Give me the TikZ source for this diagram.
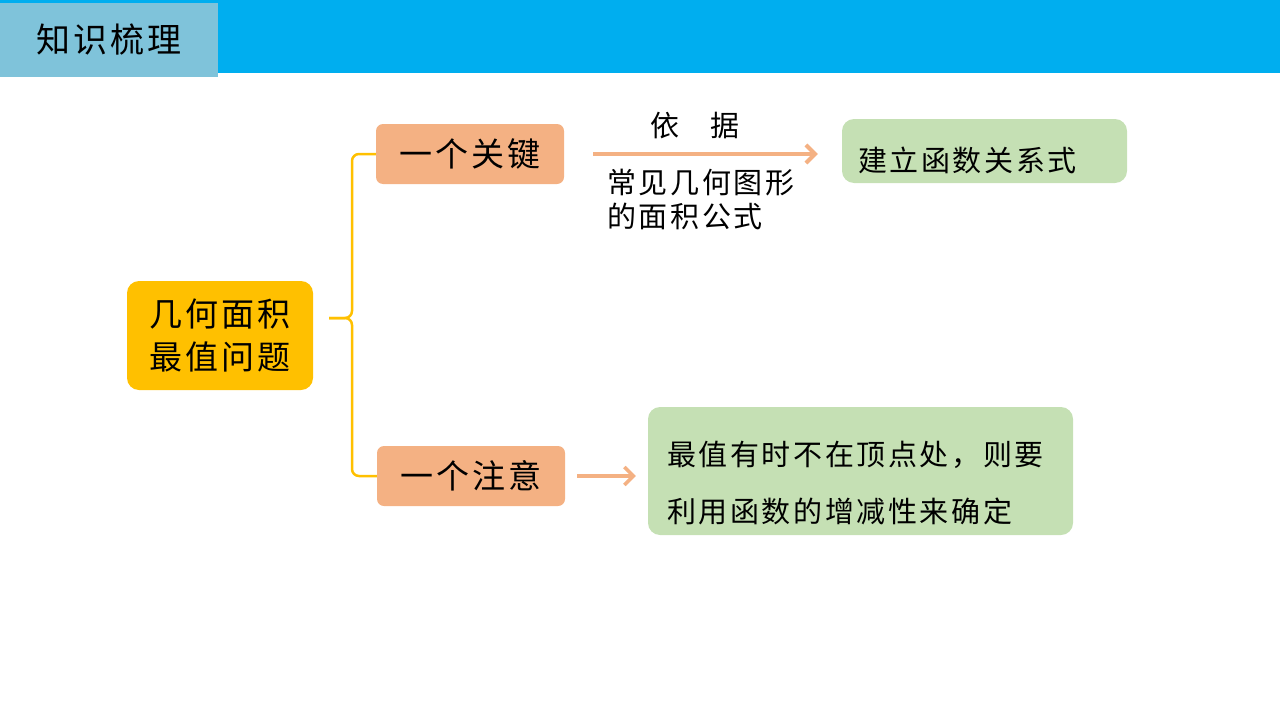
\documentclass[tikz,border=0pt]{standalone}
\usepackage{fontspec}
\newfontfamily\cjk[LetterSpace=9]{Noto Sans CJK SC}
\usetikzlibrary{arrows.meta, positioning}

\definecolor{barblue}{RGB}{0,174,239}
\definecolor{titleblue}{RGB}{127,195,218}
\definecolor{topicgold}{RGB}{255,192,0}
\definecolor{branchpeach}{RGB}{244,177,131}
\definecolor{notegreen}{RGB}{197,224,180}

\begin{document}
\begin{tikzpicture}[
    x=1pt, y=-1pt,
    titlebox/.style={fill=titleblue, minimum width=218pt, minimum height=74pt, font=\cjk\fontsize{34}{40}\selectfont},
    topic/.style={fill=topicgold, rounded corners=12pt, align=center, minimum width=186pt, minimum height=109pt, font=\cjk\fontsize{33}{43}\selectfont},
    branch/.style={fill=branchpeach, rounded corners=7pt, minimum width=188pt, minimum height=60pt, font=\cjk\fontsize{33}{38}\selectfont},
    result/.style={fill=notegreen, rounded corners=12pt, align=left, inner ysep=2pt, font=\cjk\fontsize{29}{57}\selectfont},
    caption/.style={inner sep=0pt, align=left, font=\cjk\fontsize{29}{34}\selectfont},
    brace/.style={draw=topicgold, line width=2.5pt, rounded corners=7pt},
    flow/.style={draw=branchpeach, line width=4pt, -{Straight Barb[length=9pt, width=18pt]}}
]
    \useasboundingbox (0,0) rectangle (1280,720);

    % Header band.
    \fill[barblue] (0,0) rectangle (1280,73);
    \node[titlebox] (title) at (109,40) {知识梳理};

    % Topic and its two branches.
    \node[topic]  (topic) at (220,335.5) {几何面积\\最值问题};
    \node[branch] (key)   at (470,154) {一个关键};
    \node[branch] (note)  at (471,476) {一个注意};
    \coordinate (tip) at (329,318);
    \draw[brace] (tip) -- ++(23,0) |- (key.west);
    \draw[brace] (tip) -- ++(23,0) |- (note.west);

    % Outcomes.
    \node[result, text width=253pt, inner xsep=16pt, minimum height=64pt] (relation) at (984.5,151) {\rule{0pt}{43.5pt}建立函数关系式};
    \node[result, text width=387pt, inner xsep=19pt, minimum height=128pt] (hint) at (860.5,471) {\rule{0pt}{47.5pt}最值有时不在顶点处，则要\\利用函数的增减性来确定};

    \draw[flow, shorten <=29pt, shorten >=24pt] (key.east) -- (key.east -| relation.west)
        node[caption, pos=0.47, above=13pt] (basis) {依\hspace{31pt}据}
        node[caption, at start, anchor=north west, xshift=41pt, yshift=-13pt] (formula) {常见几何图形\\的面积公式};
    \draw[flow, line width=3.5pt, shorten <=12pt, shorten >=12pt] (note.east) -- (note.east -| hint.west);

\end{tikzpicture}
\end{document}
